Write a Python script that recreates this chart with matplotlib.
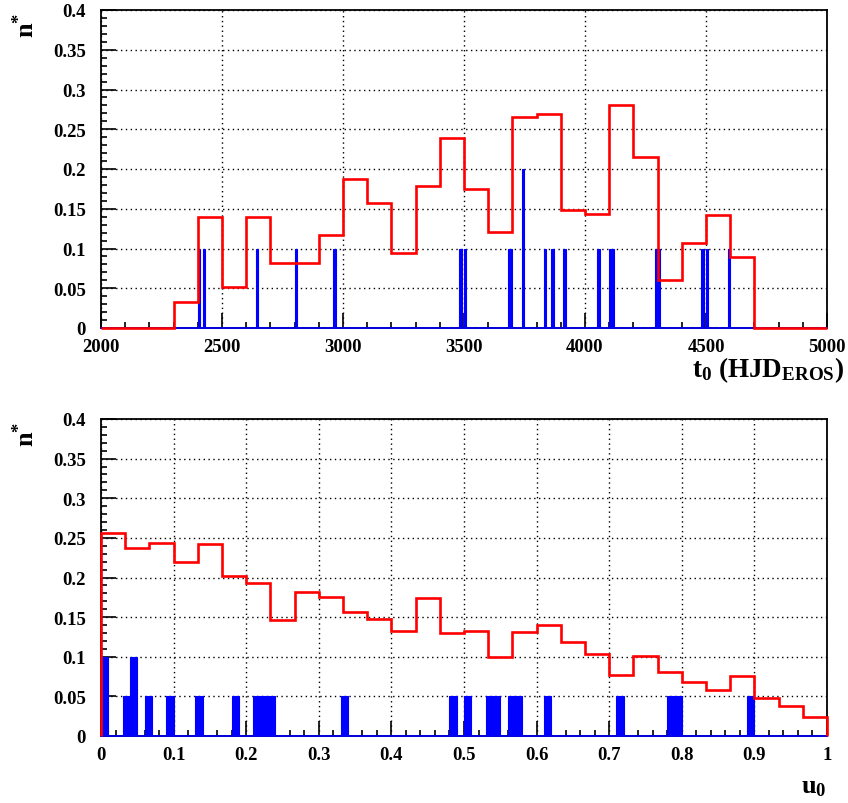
import numpy as np
import matplotlib
matplotlib.use("Agg")
import matplotlib.pyplot as plt
from matplotlib.ticker import MultipleLocator, FuncFormatter

plt.rcParams['font.family'] = ['Liberation Serif', 'DejaVu Serif']
plt.rcParams['font.weight'] = 'bold'
plt.rcParams['mathtext.fontset'] = 'custom'
plt.rcParams['mathtext.rm'] = 'Liberation Serif:bold'
plt.rcParams['mathtext.it'] = 'Liberation Serif:bold'
plt.rcParams['mathtext.bf'] = 'Liberation Serif:bold'

# ---------- data: t0 panel ----------
t0_edges = np.arange(2000, 5001, 100)
t0_red = [0, 0, 0, 0.033, 0.140, 0.052, 0.140, 0.082, 0.082, 0.117,
          0.188, 0.157, 0.094, 0.179, 0.239, 0.175, 0.121, 0.266, 0.269, 0.148,
          0.143, 0.281, 0.215, 0.060, 0.107, 0.142, 0.089, 0, 0, 0]
t0_blue_left = [2400, 2420, 2640, 2800, 2960, 3480, 3500, 3680, 3690, 3740,
                3830, 3860, 3910, 4050, 4100, 4110, 4290, 4300, 4480, 4500, 4590]
t0_blue_h = [0.1, 0.1, 0.1, 0.1, 0.1, 0.1, 0.1, 0.1, 0.1, 0.2,
             0.1, 0.1, 0.1, 0.1, 0.1, 0.1, 0.1, 0.1, 0.1, 0.1, 0.1]
t0_blue_w = 10

# ---------- data: u0 panel ----------
u0_edges = np.linspace(0, 1, 31)
u0_red = [0.256, 0.237, 0.243, 0.219, 0.242, 0.202, 0.193, 0.146, 0.182, 0.176,
          0.156, 0.148, 0.133, 0.174, 0.130, 0.132, 0.100, 0.131, 0.140, 0.118,
          0.104, 0.077, 0.101, 0.081, 0.068, 0.058, 0.076, 0.048, 0.038, 0.024]
u0_blue_left = [0.00, 0.03, 0.04, 0.06, 0.09, 0.13, 0.18, 0.21, 0.22, 0.23,
                0.33, 0.48, 0.50, 0.53, 0.54, 0.56, 0.57, 0.61, 0.71, 0.78,
                0.79, 0.89]
u0_blue_h = [0.1, 0.05, 0.1, 0.05, 0.05, 0.05, 0.05, 0.05, 0.05, 0.05,
             0.05, 0.05, 0.05, 0.05, 0.05, 0.05, 0.05, 0.05, 0.05, 0.05,
             0.05, 0.05]
u0_blue_w = 0.01

W, H = 848, 804
fig = plt.figure(figsize=(W / 100, H / 100), dpi=100)

def px_axes(x0, y0, x1, y1):
    return fig.add_axes([x0 / W, 1 - y1 / H, (x1 - x0) / W, (y1 - y0) / H])

def fmt_num(v, pos):
    return f"{v:.2f}".rstrip("0").rstrip(".")

def style(ax, xlim, xmaj, xmin):
    ax.set_xlim(*xlim)
    ax.set_ylim(0, 0.4)
    ax.xaxis.set_major_locator(MultipleLocator(xmaj))
    ax.xaxis.set_minor_locator(MultipleLocator(xmin))
    ax.yaxis.set_major_locator(MultipleLocator(0.05))
    ax.yaxis.set_minor_locator(MultipleLocator(0.01))
    ax.yaxis.set_major_formatter(FuncFormatter(fmt_num))
    ax.xaxis.set_major_formatter(FuncFormatter(fmt_num))
    ax.tick_params(which="both", direction="in", top=False, right=False,
                   width=1.2, labelsize=13.5)
    ax.tick_params(which="major", length=11)
    ax.tick_params(which="minor", length=4.5)
    ax.tick_params(axis="y", pad=11)
    ax.tick_params(axis="x", pad=7)
    for s in ax.spines.values():
        s.set_linewidth(1.3)
    ax.grid(True, which="major", color="black", linestyle=(0, (1, 2.5)), lw=1)
    ax.set_axisbelow(True)

# ---------- top: t0 ----------
ax1 = px_axes(101, 11, 827, 329)
style(ax1, (2000, 5000), 500, 100)
ax1.axhline(0, color="blue", lw=1.2, zorder=3, clip_on=False)
ax1.bar(t0_blue_left, t0_blue_h, width=t0_blue_w, align="edge",
        color="blue", edgecolor="blue", lw=0.8, zorder=3)
ax1.stairs(t0_red, t0_edges, color="red", lw=1.9, zorder=4, clip_on=False)

# ---------- bottom: u0 ----------
ax2 = px_axes(101, 420, 827, 737)
style(ax2, (0, 1), 0.1, 0.02)
ax2.axhline(0, color="blue", lw=1.2, zorder=3, clip_on=False)
ax2.bar(u0_blue_left, u0_blue_h, width=u0_blue_w, align="edge",
        color="blue", edgecolor="blue", lw=0.8, zorder=3)
ax2.stairs(u0_red, u0_edges, color="red", lw=1.9, zorder=4, clip_on=False)

# ---------- labels ----------
fig.text(26 / W, 1 - 13 / H, r"n$^{*}$", rotation=90, ha="center", va="top",
         fontsize=19, fontweight="bold")
fig.text(26 / W, 1 - 422 / H, r"n$^{*}$", rotation=90, ha="center", va="top",
         fontsize=19, fontweight="bold")
fig.text(844 / W, 1 - 377 / H, r"t$_{0}$ (HJD$_{\mathrm{EROS}}$)", ha="right",
         va="baseline", fontsize=19.5, fontweight="bold")
fig.text(827 / W, 1 - 793 / H, r"u$_{0}$", ha="right", va="baseline",
         fontsize=19, fontweight="bold")

fig.savefig("out.png", dpi=100)
